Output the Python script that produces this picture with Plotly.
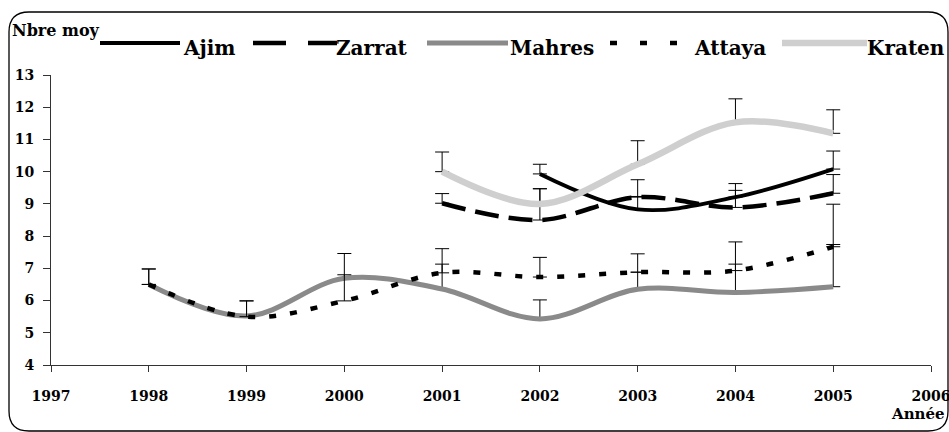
import plotly.graph_objects as go

# ---------------- data ----------------
years = [1998, 1999, 2000, 2001, 2002, 2003, 2004, 2005]

ajim = [None, None, None, None, 9.93, 8.83, 9.21, 10.08]
ajim_err = [0, 0, 0, 0, 0.30, 0.40, 0.42, 0.56]

zarrat = [None, None, None, 9.02, 8.50, 9.21, 8.89, 9.33]
zarrat_err = [0, 0, 0, 0.30, 0.97, 0.54, 0.53, 0.58]

mahres = [6.50, 5.52, 6.69, 6.36, 5.43, 6.35, 6.25, 6.43]
mahres_err = [0.48, 0.47, 0.77, 0.77, 0.59, 0.53, 0.88, 1.31]

attaya = [6.50, 5.50, 5.99, 6.86, 6.73, 6.88, 6.93, 7.67]
attaya_err = [0.48, 0.49, 0.81, 0.75, 0.61, 0.57, 0.89, 1.32]

kraten = [None, None, None, 10.00, 9.00, 10.23, 11.53, 11.19]
kraten_err = [0, 0, 0, 0.61, 0.47, 0.73, 0.73, 0.73]

series_names = ["Ajim", "Zarrat", "Mahres", "Attaya", "Kraten"]
x_tick_values = list(range(1997, 2007))
y_tick_values = list(range(4, 14))
y_title = "Nbre moy"
x_title = "Année"

# ---------------- styles / layout ----------------
W, H = 949, 432
PX0, PX1, PY0, PY1 = 51, 931, 75, 365  # plot area in page pixels
FONT = "DejaVu Serif"


def fx(px):
    return (px - PX0) / (PX1 - PX0)


def fy(py):
    return (PY1 - py) / (PY1 - PY0)


styles = {
    "Ajim": dict(color="#000000", width=3.8, dash="solid"),
    "Zarrat": dict(color="#000000", width=4.5, dash="24px,10px"),
    "Mahres": dict(color="#8a8a8a", width=5, dash="solid"),
    "Attaya": dict(color="#000000", width=4.5, dash="7px,14px"),
    "Kraten": dict(color="#cfcfcf", width=6.5, dash="solid"),
}
legend_dash = {
    "Ajim": "solid",
    "Zarrat": "33px,22px",
    "Mahres": "solid",
    "Attaya": "7px,23px",
    "Kraten": "solid",
}

data = {
    "Ajim": (ajim, ajim_err),
    "Zarrat": (zarrat, zarrat_err),
    "Mahres": (mahres, mahres_err),
    "Attaya": (attaya, attaya_err),
    "Kraten": (kraten, kraten_err),
}

fig = go.Figure()
for name in series_names:
    vals, errs = data[name]
    st = styles[name]
    fig.add_trace(go.Scatter(
        x=years, y=vals, name=name, mode="lines",
        line=dict(color=st["color"], width=st["width"], dash=st["dash"],
                  shape="spline", smoothing=1),
        error_y=dict(type="data", symmetric=False, array=errs,
                     arrayminus=[0] * len(errs), color="#000000",
                     thickness=1, width=7),
        connectgaps=False,
        showlegend=False,
    ))

shapes = []
annotations = []

# rounded chart-area border
L, T, R, B, r = 9, 12, 948, 431, 20
path = (
    f"M {fx(L)},{fy(T + r)} "
    f"Q {fx(L)},{fy(T)} {fx(L + r)},{fy(T)} "
    f"L {fx(R - r)},{fy(T)} "
    f"Q {fx(R)},{fy(T)} {fx(R)},{fy(T + r)} "
    f"L {fx(R)},{fy(B - r)} "
    f"Q {fx(R)},{fy(B)} {fx(R - r)},{fy(B)} "
    f"L {fx(L + r)},{fy(B)} "
    f"Q {fx(L)},{fy(B)} {fx(L)},{fy(B - r)} Z"
)
shapes.append(dict(type="path", xref="paper", yref="paper", path=path,
                   line=dict(color="#000000", width=1.3), layer="below"))

# y title (top-left)
annotations.append(dict(xref="paper", yref="paper", x=fx(10), y=fy(31),
                        xanchor="left", yanchor="middle", showarrow=False,
                        text=f"<b>{y_title}</b>",
                        font=dict(family=FONT, size=16, color="#000000")))
# x title (bottom-right)
annotations.append(dict(xref="paper", yref="paper", x=fx(889), y=fy(414),
                        xanchor="left", yanchor="middle", showarrow=False,
                        text=f"<b>{x_title}</b>",
                        font=dict(family=FONT, size=15, color="#000000")))

# manual legend (long sample lines as in the original)
legend_pos = {
    "Ajim": (100, 180, 181),
    "Zarrat": (253, 337, 334),
    "Mahres": (427, 508, 508),
    "Attaya": (610, 684, 692),
    "Kraten": (782, 867, 865),
}
LEG_LINE_Y = 43
LEG_TEXT_Y = 48
for name in series_names:
    x0, x1, tx = legend_pos[name]
    st = styles[name]
    shapes.append(dict(type="line", xref="paper", yref="paper",
                       x0=fx(x0), x1=fx(x1), y0=fy(LEG_LINE_Y), y1=fy(LEG_LINE_Y),
                       line=dict(color=st["color"], width=st["width"],
                                 dash=legend_dash[name])))
    annotations.append(dict(xref="paper", yref="paper", x=fx(tx), y=fy(LEG_TEXT_Y),
                            xanchor="left", yanchor="middle", showarrow=False,
                            text=f"<b>{name}</b>",
                            font=dict(family=FONT, size=20, color="#000000")))

fig.update_layout(
    width=W, height=H,
    margin=dict(l=PX0, r=W - PX1, t=PY0, b=H - PY1, autoexpand=False),
    paper_bgcolor="white", plot_bgcolor="white",
    shapes=shapes, annotations=annotations,
    showlegend=False,
)
fig.update_xaxes(
    range=[1997, 2006], tickmode="array", tickvals=x_tick_values,
    ticktext=[f"<b>{v}</b>" for v in x_tick_values],
    showgrid=False, zeroline=False, showline=True, linecolor="#333333",
    linewidth=1, ticks="outside", ticklen=6, tickcolor="#333333",
    ticklabelstandoff=12, ticklabeloverflow="allow",
    tickfont=dict(family=FONT, size=14, color="#000000"),
)
fig.update_yaxes(
    range=[4, 13], tickmode="array", tickvals=y_tick_values,
    ticktext=[f"<b>{v}</b>" for v in y_tick_values],
    showgrid=False, zeroline=False, showline=True, linecolor="#333333",
    linewidth=1, ticks="outside", ticklen=7, tickcolor="#333333",
    ticklabelstandoff=6, ticklabeloverflow="allow",
    tickfont=dict(family=FONT, size=14, color="#000000"),
)

# the page body gets no margin and no scrollbars, so the figure fills the window
fig.write_html(
    "out.html",
    config={"displayModeBar": False},
    post_script="document.body.style.margin='0';"
                "document.body.style.overflow='hidden';",
)
